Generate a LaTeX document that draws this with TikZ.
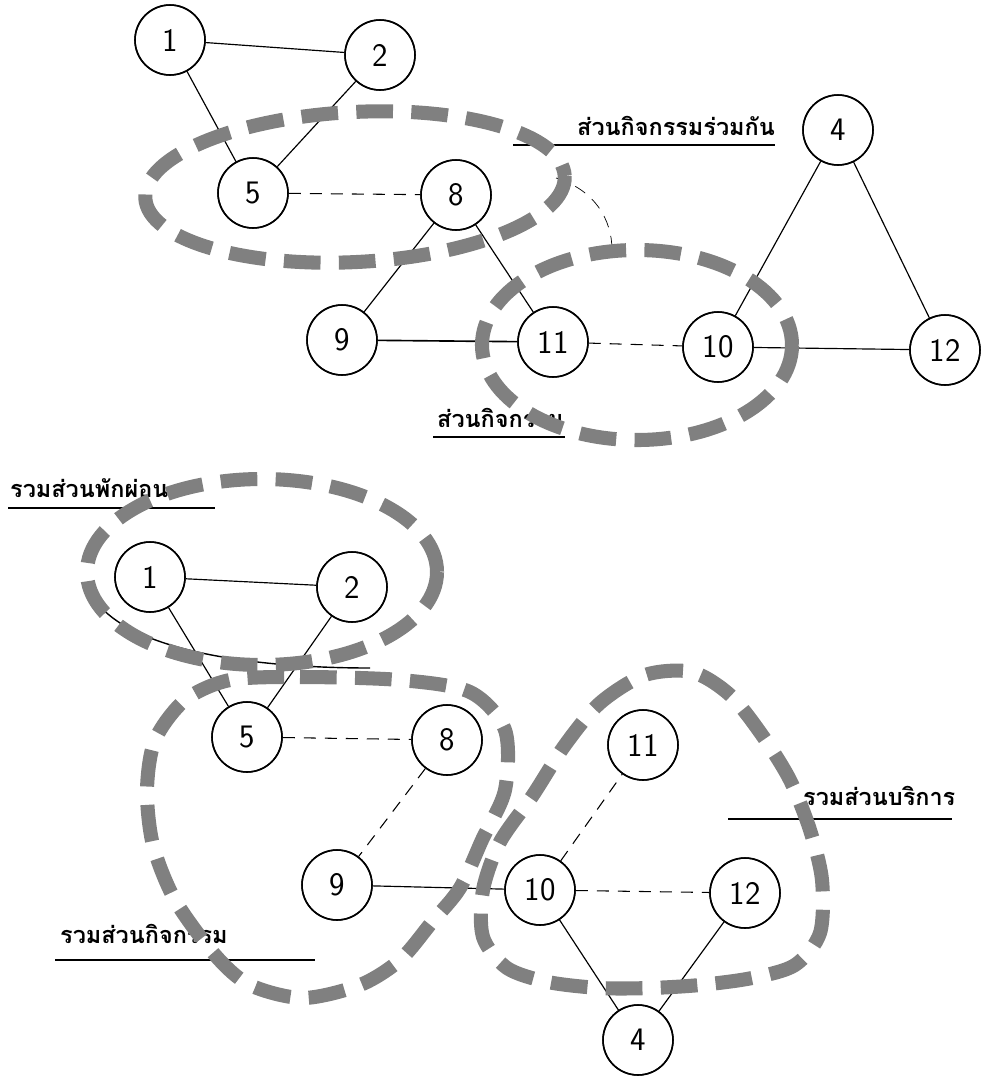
\documentclass[tikz,border=0pt]{standalone}
\usepackage{fontspec}
\newfontfamily\thaifont[Script=Thai]{Loma}

\begin{document}
\begin{tikzpicture}[x=0.03cm, y=-0.03cm,
    zone/.style={line width=12pt, draw=black!50, dash pattern=on 1.1cm off 0.55cm},
    room/.style={circle, draw, line width=1.3pt, fill=white, minimum size=2.1cm,
      inner sep=0pt, font=\sffamily\fontsize{28}{30}\selectfont},
    link/.style={line width=1pt},
    weak/.style={line width=0.9pt, dash pattern=on 0.36cm off 0.27cm},
    tag/.style={anchor=base west, inner sep=0pt, font=\thaifont\bfseries\fontsize{20}{22}\selectfont}]
  \useasboundingbox (0,0) rectangle (981,1081);

  % 1. Rooms of the upper graph
  \node[room] (a1) at (170,40) {1};
  \node[room] (a2) at (380,55) {2};
  \node[room] (a5) at (253,193) {5};
  \node[room] (a8) at (456,195) {8};
  \node[room] (a9) at (342,340) {9};
  \node[room] (a11) at (553,342) {11};
  \node[room] (a10) at (718,347) {10};
  \node[room] (a4) at (838,130) {4};
  \node[room] (a12) at (945,350) {12};

  % 2. Rooms of the lower graph
  \node[room] (b1) at (150,577) {1};
  \node[room] (b2) at (352,587) {2};
  \node[room] (b5) at (247,737) {5};
  \node[room] (b8) at (447,740) {8};
  \node[room] (b9) at (337,885) {9};
  \node[room] (b10) at (540,890) {10};
  \node[room] (b11) at (643,745) {11};
  \node[room] (b12) at (745,893) {12};
  \node[room] (b4) at (638,1040) {4};

  % 3. Links between the rooms
  \draw[link] (a1) -- (a2);
  \draw[link] (a1) -- (a5);
  \draw[link] (a2) -- (a5);
  \draw[weak] (a5) -- (a8);
  \draw[link] (a8) -- (a9);
  \draw[link] (a8) -- (a11);
  \draw[link, line width=1.4pt] (a9) -- (a11);
  \draw[weak] (a11) -- (a10);
  \draw[link] (a10) -- (a4);
  \draw[link] (a4) -- (a12);
  \draw[link] (a10) -- (a12);

  \draw[link] (b1) -- (b2);
  \draw[link] (b1) -- (b5);
  \draw[link] (b2) -- (b5);
  \draw[weak] (b5) -- (b8);
  \draw[weak] (b8) -- (b9);
  \draw[link] (b9) -- (b10);
  \draw[weak] (b10) -- (b11);
  \draw[weak] (b10) -- (b12);
  \draw[link] (b10) -- (b4);
  \draw[link] (b12) -- (b4);

  % 4. Zone labels with their underlines
  \node[tag] (tJoint) at (577,135) {ส่วนกิจกรรมร่วมกัน};
  \coordinate (uJointA) at (513,145);
  \coordinate (uJointB) at (775,145);
  \draw[link] (uJointA) -- (uJointB);

  \node[tag] (tAct) at (437,427) {ส่วนกิจกรรม};
  \coordinate (uActA) at (433,437);
  \coordinate (uActB) at (565,437);
  \draw[link] (uActA) -- (uActB);

  \node[tag] (tRest) at (10,497) {รวมส่วนพักผ่อน};
  \coordinate (uRestA) at (8,508);
  \coordinate (uRestB) at (215,508);
  \draw[link] (uRestA) -- (uRestB);

  \node[tag] (tServ) at (803,805) {รวมส่วนบริการ};
  \coordinate (uServA) at (728,819);
  \coordinate (uServB) at (952,819);
  \draw[link] (uServA) -- (uServB);

  \node[tag] (tActAll) at (60,943) {รวมส่วนกิจกรรม};
  \coordinate (uActAllA) at (55,960);
  \coordinate (uActAllB) at (315,960);
  \draw[link] (uActAllA) -- (uActAllB);

  % 5. Pencil guide lines
  \coordinate (g1) at (556,178);
  \coordinate (g2) at (612,250);
  \draw[weak, line width=0.6pt] (g1) .. controls (595,190) and (612,220) .. (g2);
  \coordinate (g3) at (95,600);
  \coordinate (g4) at (370,668);
  \draw[link, line width=1.2pt] (g3) .. controls (130,650) and (250,668) .. (g4);

  % 6. Zones (thick grey dashes)
  \draw[zone, rotate around={3:(355,187)}] (355,187) ellipse [x radius=210, y radius=75];
  \draw[zone] (637,345) ellipse [x radius=155, y radius=95];
  \draw[zone] (262,572) ellipse [x radius=175, y radius=93];
  \draw[zone] plot[smooth cycle] coordinates {(230,680) (300,677) (400,680) (470,692)
    (505,730) (505,790) (482,840) (460,888) (432,922) (400,960) (360,985) (303,998)
    (250,985) (215,955) (175,900) (153,845) (147,790) (155,740) (185,700)};
  \draw[zone] plot[smooth cycle] coordinates {(565,745) (600,703) (645,675) (692,672)
    (730,695) (762,735) (790,780) (810,830) (822,880) (820,933) (795,965) (752,978)
    (700,985) (650,988) (600,988) (548,982) (507,968) (483,937) (483,890) (500,842)
    (533,795)};

  % 7. Redraw the rooms on top of the zones
  \foreach \r in {a1,a2,a5,a8,a9,a11,a10,a4,a12,b1,b2,b5,b8,b9,b10,b11,b12,b4}
    \draw[line width=1.3pt] (\r.center) circle (1.05cm);
\end{tikzpicture}
\end{document}
